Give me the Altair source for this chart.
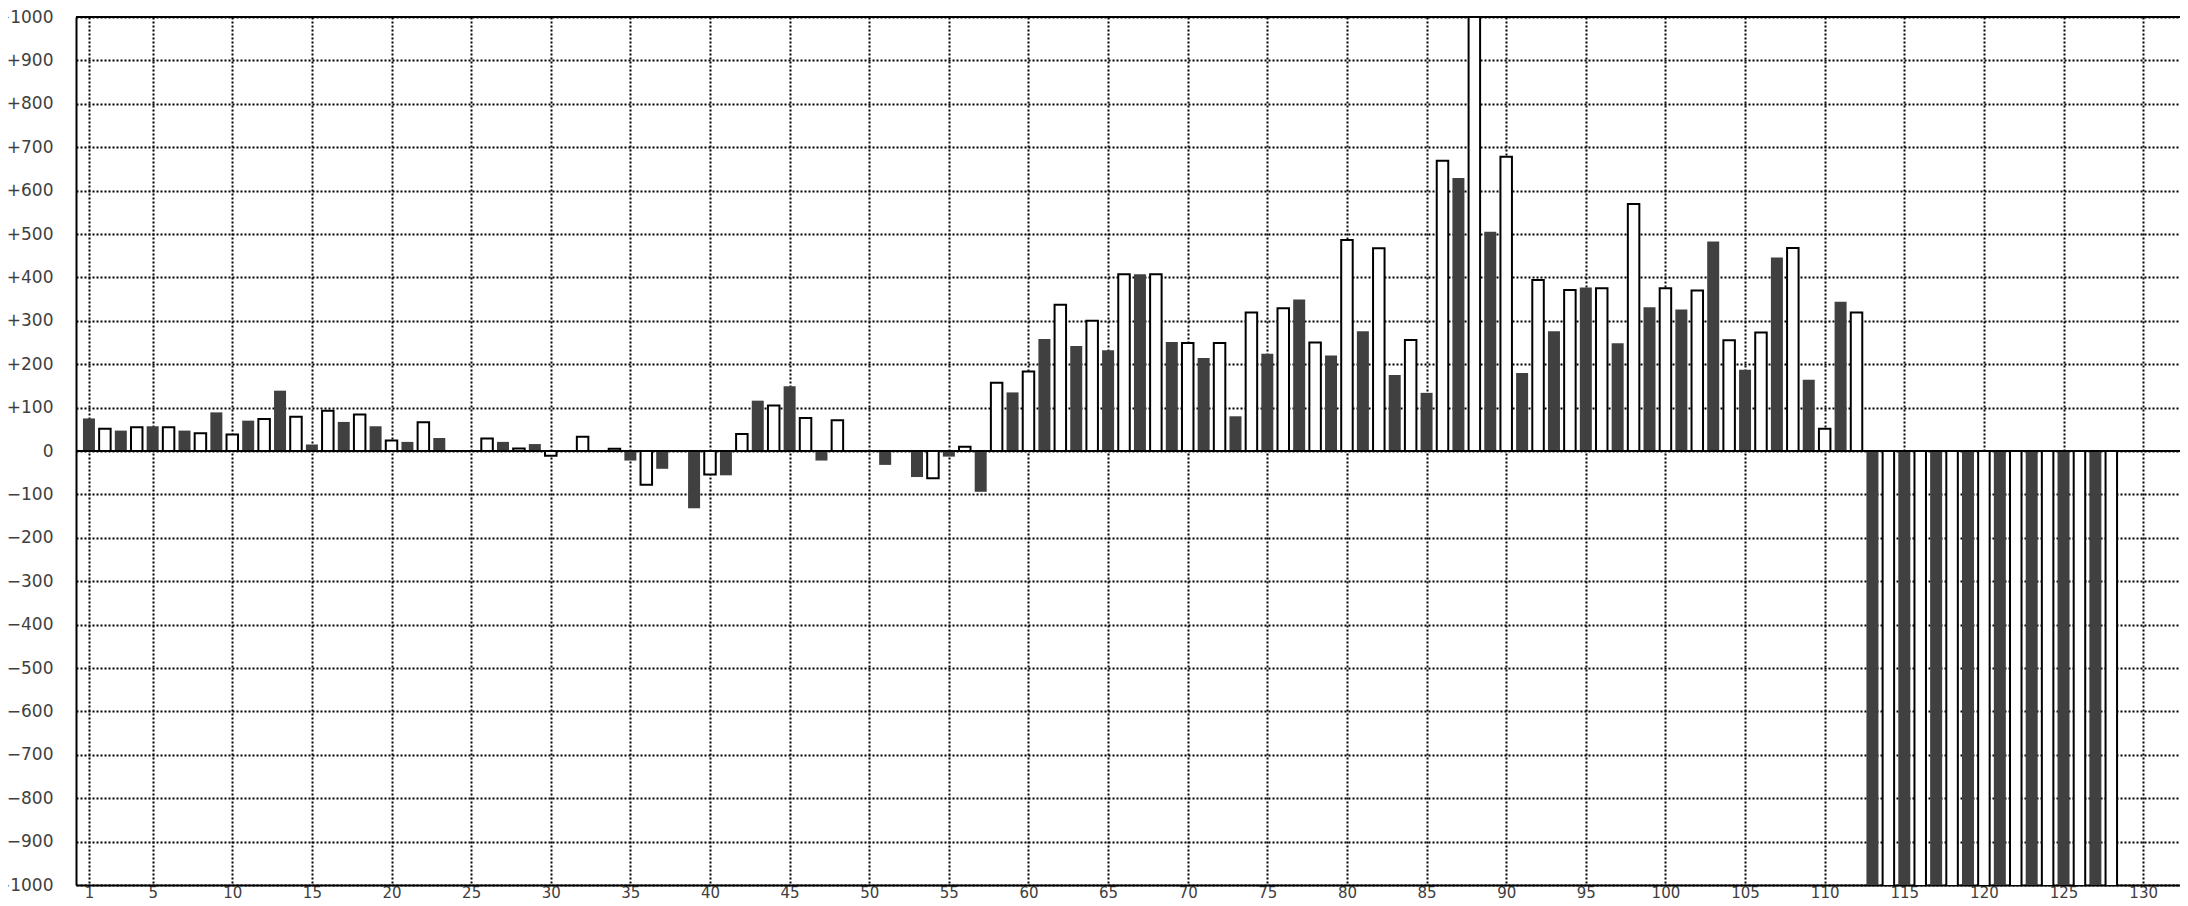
import altair as alt
import pandas as pd

# Bar values, position 1..128 (odd positions dark, even positions white)
values = [
    75, 51, 47, 55, 57, 55, 47, 41, 89, 38,
    70, 74, 139, 79, 15, 93, 67, 84, 57, 24,
    21, 66, 30, 0, 1, 29, 21, 6, 16, -11,
    0, 33, 0, 5, -22, -78, -41, 0, -132, -54,
    -56, 39, 116, 105, 149, 76, -22, 71, 0, 0,
    -32, 0, -60, -63, -13, 10, -94, 157, 135, 183,
    258, 337, 242, 300, 232, 407, 407, 407, 251, 249,
    214, 249, 80, 319, 224, 329, 349, 250, 220, 486,
    276, 467, 175, 256, 134, 669, 629, 1150, 505, 678,
    180, 394, 276, 371, 377, 375, 248, 569, 331, 375,
    326, 370, 483, 255, 187, 273, 446, 468, 164, 51,
    344, 319, -1150, -1150, -1150, -1150, -1150, -1150, -1150, -1150,
    -1150, -1150, -1150, -1150, -1150, -1150, -1150, -1150,
]
positions = list(range(1, len(values) + 1))
kinds = ["dark" if p % 2 == 1 else "white" for p in positions]

x_ticks = [1, 5, 10, 15, 20, 25, 30, 35, 40, 45, 50, 55, 60, 65,
           70, 75, 80, 85, 90, 95, 100, 105, 110, 115, 120, 125, 130]
y_ticks = [-1000, -900, -800, -700, -600, -500, -400, -300, -200, -100,
           0, 100, 200, 300, 400, 500, 600, 700, 800, 900, 1000]
ref_lines = [0, 1000]

df = pd.DataFrame({"n": positions, "v": values, "kind": kinds})

xs = alt.Scale(domain=[0.5, 132.0], nice=False, zero=False)
ys = alt.Scale(domain=[-1000, 1000], nice=False)

x_axis = alt.Axis(values=x_ticks, title=None, grid=True, ticks=False, tickSize=0,
                  labelPadding=12.5, labelBaseline="alphabetic", labelFontSize=15,
                  labelFlush=False, labelOverlap=False, domain=True)
y_axis = alt.Axis(values=y_ticks, title=None, grid=True, ticks=False, tickSize=0,
                  labelPadding=23, labelFlush=False, labelOverlap=False,
                  domain=True,
                  labelExpr="datum.value > 0 ? '+' + format(datum.value, 'd') : format(datum.value, 'd')")

base = alt.Chart(df).encode(
    x=alt.X("n:Q", scale=xs, axis=x_axis),
    y=alt.Y("v:Q", scale=ys, axis=y_axis),
)

dark = base.transform_filter("datum.kind == 'dark'").mark_bar(
    size=12, color="#404040", clip=True
)
white = base.transform_filter("datum.kind == 'white'").mark_bar(
    size=11.5, fill="white", stroke="black", strokeWidth=2, clip=True
)

rules = alt.Chart(pd.DataFrame({"y": ref_lines})).mark_rule(
    color="black", strokeWidth=2
).encode(y=alt.Y("y:Q", scale=ys, axis=y_axis))

chart = (
    alt.layer(dark, white, rules)
    .properties(
        width=2104,
        height=868,
        padding={"left": 68, "top": 9, "right": 0, "bottom": 13},
        autosize=alt.AutoSizeParams(type="none"),
        background="white",
    )
    .configure_view(stroke=None)
    .configure_axis(
        gridColor="black",
        gridDash=[2, 2],
        gridWidth=2,
        gridOpacity=1,
        domainColor="black",
        domainWidth=2,
        labelFont="DejaVu Sans",
        labelFontSize=17,
        labelColor="#404040",
    )
)

chart.save("out.html", embed_options={"renderer": "svg", "actions": False})
